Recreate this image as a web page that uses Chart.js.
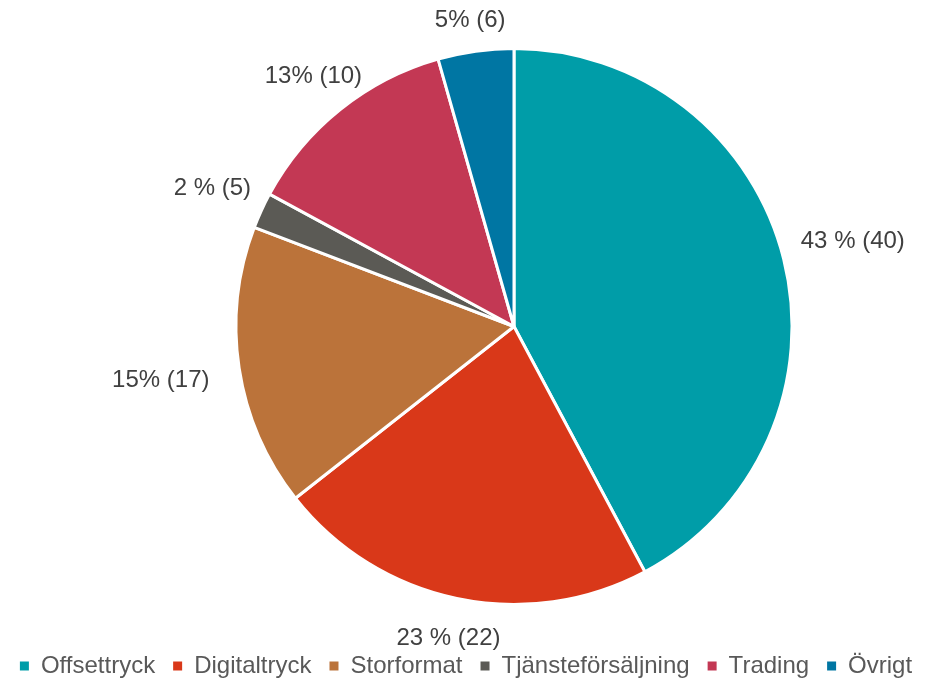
<!DOCTYPE html>
<html>
<head>
<meta charset="utf-8">
<script src="https://cdn.jsdelivr.net/npm/chart.js@4/dist/chart.umd.min.js"></script>
<style>
  html, body { margin: 0; padding: 0; background: #fff; }
  #wrap { width: 932px; height: 681px; }
</style>
</head>
<body>
<div id="wrap"><canvas id="pie"></canvas></div>
<script>
// categories and values (share of the circle, %)
const categories = ['Offsettryck', 'Digitaltryck', 'Storformat', 'Tjänsteförsäljning', 'Trading', 'Övrigt'];
const shares = [42.2, 22.2, 16.4, 2.1, 12.7, 4.4];
// label texts as printed next to each slice
const sliceLabels = ['43 % (40)', '23 % (22)', '15% (17)', '2 % (5)', '13% (10)', '5% (6)'];
const colors = ['#009da8', '#d93819', '#bb733a', '#5b5a55', '#c33854', '#0076a3'];

const FONT = 'Arial, "Liberation Sans", sans-serif';

// pie sits right of the canvas centre, legend stays full width
const shiftPie = {
  id: 'shiftPie',
  afterLayout(chart) {
    const a = chart.chartArea;
    a.left += 96;
    a.width = a.right - a.left;
    // legend row a bit lower, close to the bottom edge
    chart.legend.top += 7;
    chart.legend.bottom += 7;
  }
};

// draws the outside labels at each slice's middle angle
const outsideLabels = {
  id: 'outsideLabels',
  afterDraw(chart) {
    const ctx = chart.ctx;
    const meta = chart.getDatasetMeta(0);
    ctx.save();
    ctx.font = '24px ' + FONT;
    ctx.fillStyle = '#404040';
    ctx.textAlign = 'center';
    ctx.textBaseline = 'middle';
    const gap = 30;
    const halfH = 10;
    meta.data.forEach((arc, i) => {
      const mid = (arc.startAngle + arc.endAngle) / 2;
      const cx = Math.cos(mid), cy = Math.sin(mid);
      const text = sliceLabels[i];
      const halfW = ctx.measureText(text).width / 2;
      const ext = Math.min(
        Math.abs(cx) > 1e-6 ? halfW / Math.abs(cx) : Infinity,
        Math.abs(cy) > 1e-6 ? halfH / Math.abs(cy) : Infinity
      );
      const d = arc.outerRadius + gap + ext;
      let y = arc.y + cy * d;
      y = Math.max(y, halfH + 10); // keep inside the canvas
      ctx.fillText(text, arc.x + cx * d, y);
    });
    ctx.restore();
  }
};

let chart = new Chart(document.getElementById('pie'), {
  type: 'pie',
  data: {
    labels: categories,
    datasets: [{
      data: shares,
      backgroundColor: colors,
      borderColor: '#ffffff',
      borderWidth: 3,
      radius: 278
    }]
  },
  options: {
    responsive: true,
    maintainAspectRatio: false,
    animation: false,
    layout: { padding: { top: 24, left: 0, right: 0, bottom: 0 } },
    plugins: {
      tooltip: { enabled: false },
      legend: {
        position: 'bottom',
        labels: {
          color: '#595959',
          font: { family: FONT, size: 24 },
          boxWidth: 9,
          boxHeight: 9,
          padding: 18,
          generateLabels(c) {
            const items = Chart.overrides.pie.plugins.legend.labels.generateLabels(c);
            items.forEach(it => { it.lineWidth = 0; });
            return items;
          }
        }
      }
    }
  },
  plugins: [shiftPie, outsideLabels]
});
</script>
</body>
</html>
